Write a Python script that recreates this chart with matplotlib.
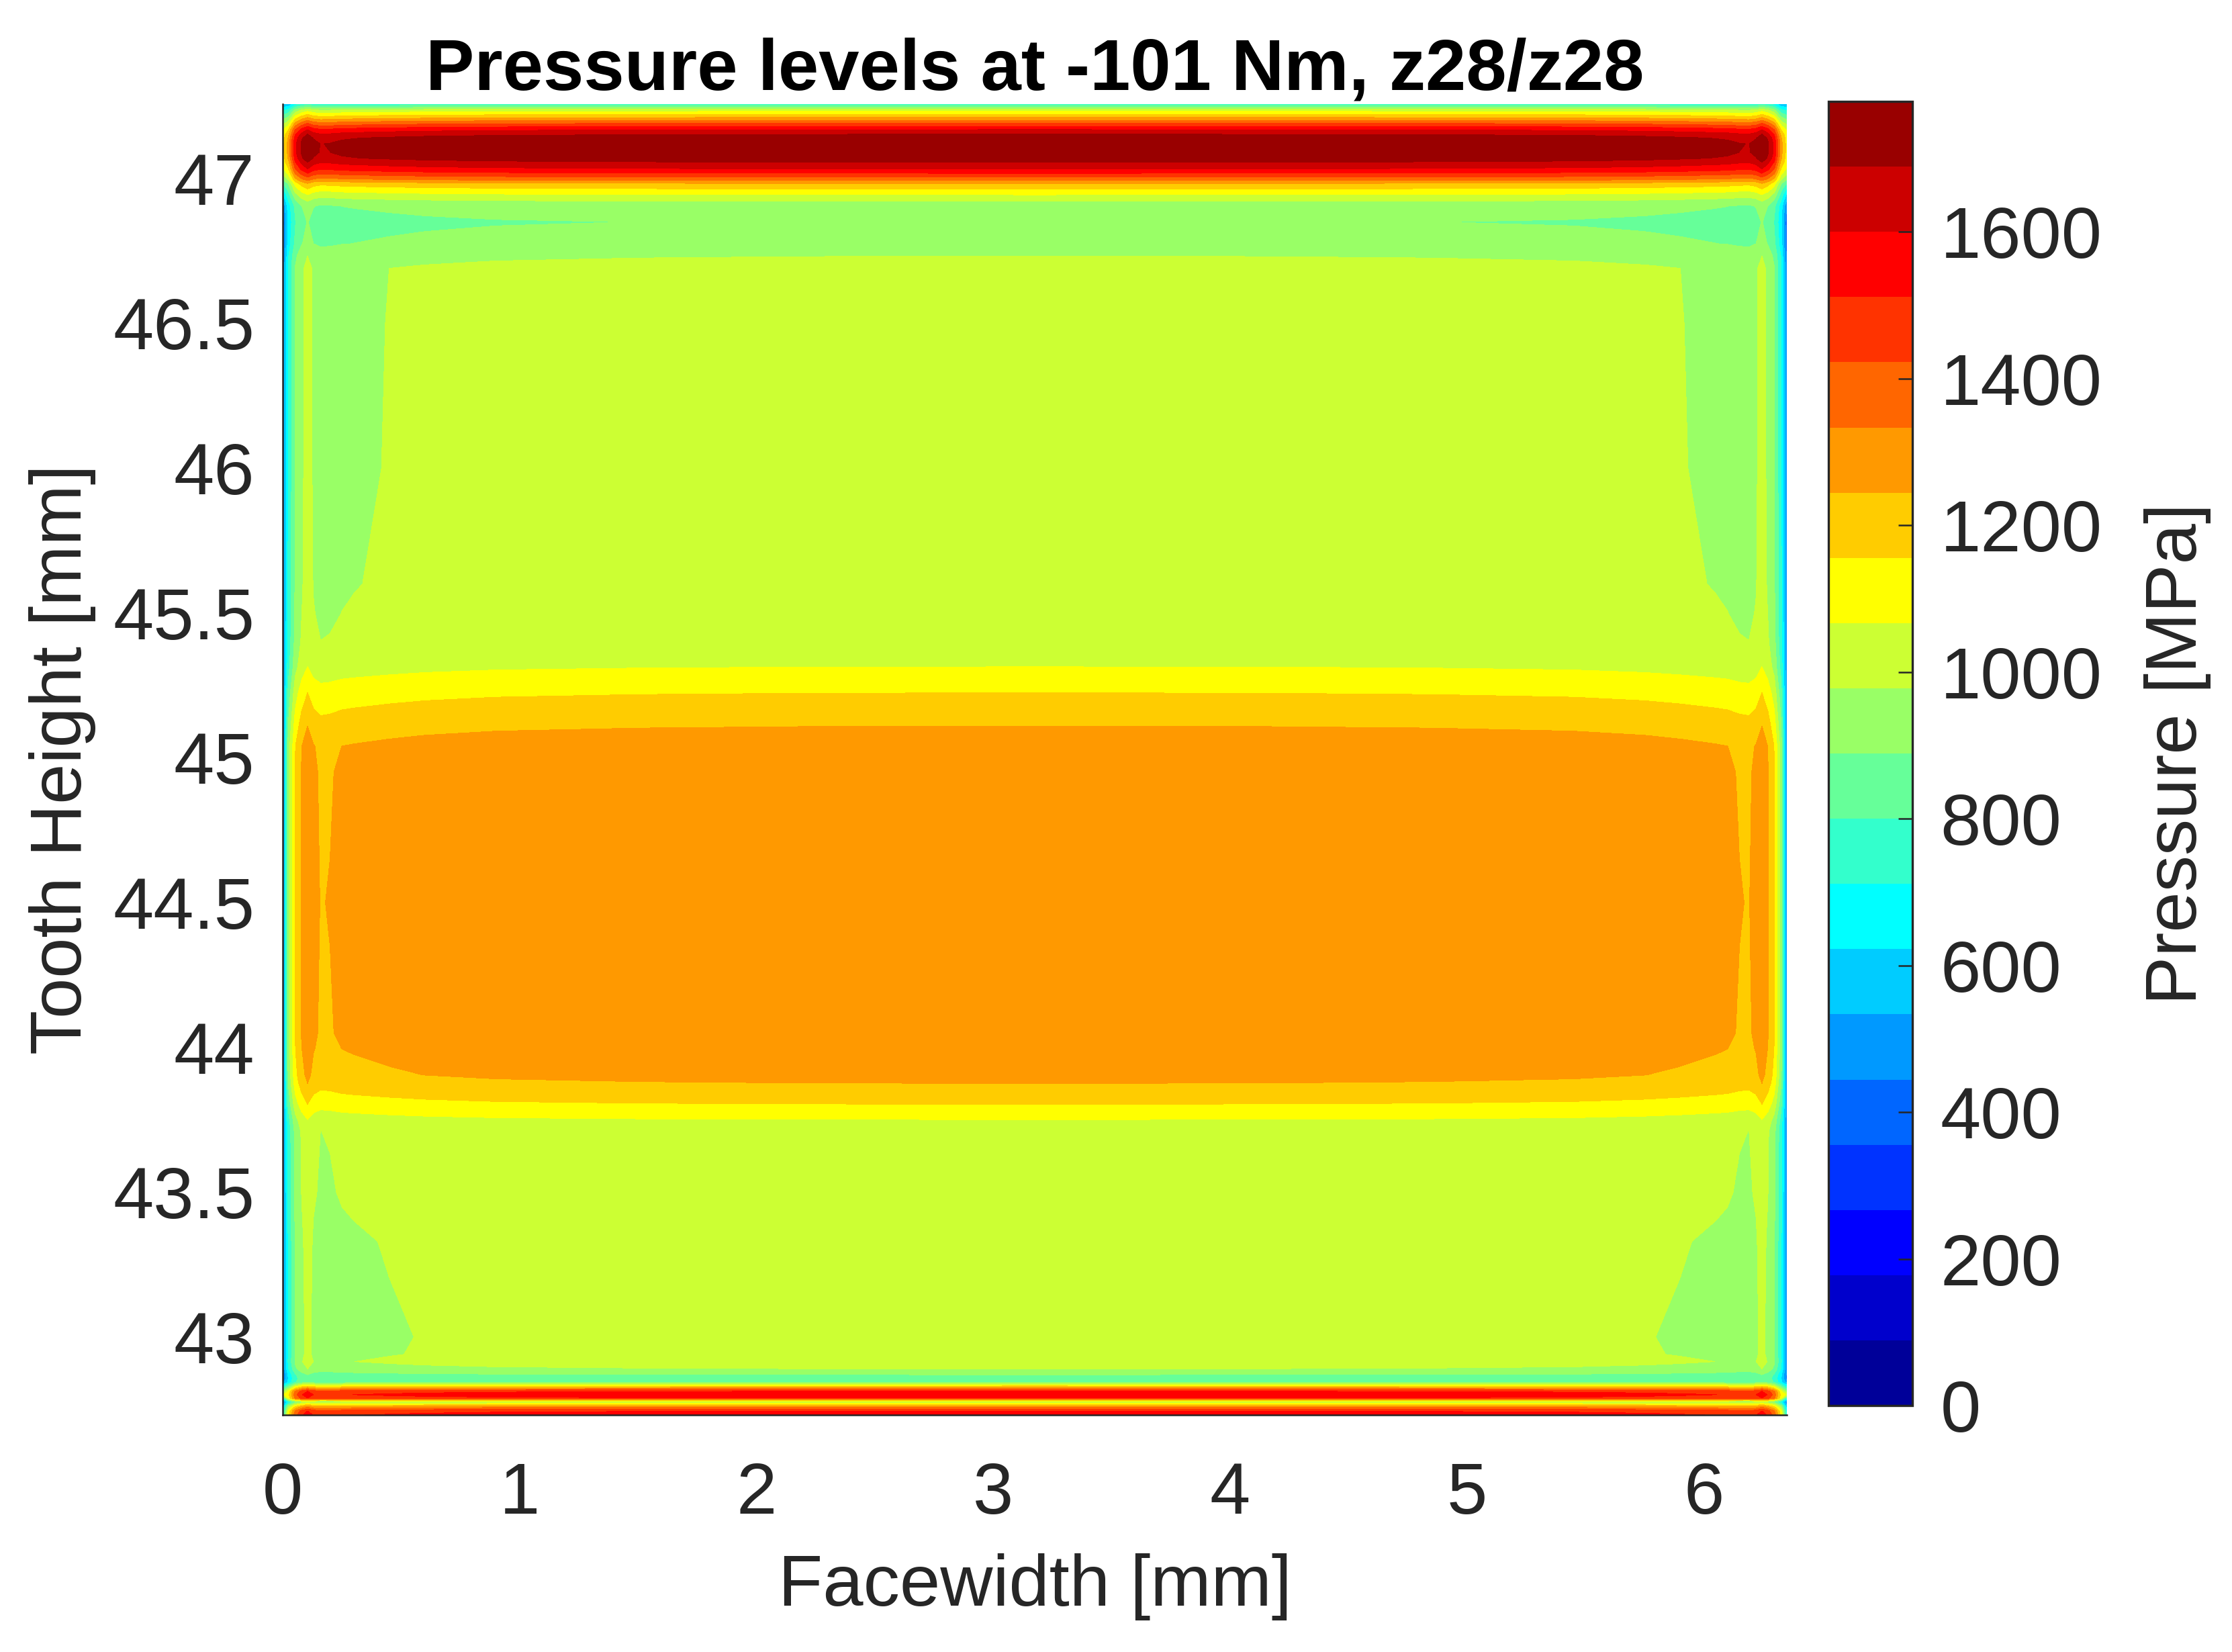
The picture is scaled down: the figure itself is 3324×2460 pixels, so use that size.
import numpy as np
import matplotlib
matplotlib.use("Agg")
import matplotlib.pyplot as plt
from matplotlib.colors import ListedColormap, BoundaryNorm

# ---------------- data ----------------
# Tooth height nodes [mm] (ascending) and pressure along the middle of the face [MPa]
height_mm = [42.731, 42.745, 42.760, 42.776, 42.789, 42.801, 42.813, 42.844, 42.857,
             42.870, 42.890, 42.915, 42.940, 43.000, 43.330, 43.500, 43.710, 43.751,
             43.804, 43.876, 43.905, 43.995, 44.050, 44.500, 44.950, 45.040, 45.077,
             45.109, 45.224, 45.314, 45.400,
             45.500, 45.600, 46.000, 46.500, 46.690, 46.732, 46.775, 46.850, 46.905,
             46.921, 46.944, 46.964, 46.983, 46.998, 47.018, 47.033, 47.056, 47.070,
             47.090, 47.120, 47.140, 47.153, 47.169, 47.190, 47.211, 47.235, 47.257]
center_pressure = [1560, 1511, 1300, 960, 1511, 1565, 1511, 889, 870,
                   889, 978, 1012, 1000, 998, 1006, 1021, 1029, 1067,
                   1156, 1245, 1268, 1294, 1302, 1308, 1302, 1294, 1268,
                   1245, 1156, 1067, 1030,
                   1017, 1010, 1005, 1004, 1003, 978, 921, 893, 925,
                   978, 1067, 1156, 1245, 1380, 1511, 1600, 1689, 1745,
                   1772, 1776, 1745, 1689, 1600, 1430, 1245, 1040, 760]
# Pressure on the two face ends (x = 0 and x = 6.35 mm) [MPa]
edge_pressure = [700, 650, 560, 450, 700, 1050, 900, 500, 400,
                 420, 450, 460, 460, 460, 460, 460, 460, 460,
                 450, 440, 435, 430, 430, 430, 430, 430, 435,
                 440, 450, 460, 460,
                 460, 460, 460, 460, 450, 420, 400, 380, 450,
                 520, 600, 700, 800, 900, 1000, 1050, 1100, 1110,
                 1120, 1120, 1110, 1100, 1050, 950, 850, 700, 550]

# Facewidth nodes [mm] and relative pressure across the face width
facewidth_mm = [0.0, 0.024, 0.053, 0.08, 0.105, 0.13, 0.16, 0.2, 0.25, 0.3, 0.45,
                0.6, 0.9, 1.5, 2.2, 3.175, 4.15, 4.85, 5.45, 5.75, 5.9, 6.05,
                6.1, 6.15, 6.19, 6.22, 6.245, 6.27, 6.297, 6.326, 6.35]
edge_factor = [0.45, 0.72, 0.89, 0.96, 1.0, 0.965, 0.95, 0.953, 0.962, 0.966, 0.975,
               0.982, 0.99, 0.996, 0.999, 1.0, 0.999, 0.996, 0.99, 0.982, 0.975, 0.966,
               0.962, 0.953, 0.95, 0.965, 1.0, 0.96, 0.89, 0.72, 0.45]

pressure_max = 1778
n_levels = 20
cbar_ticks = [0, 200, 400, 600, 800, 1000, 1200, 1400, 1600]
x_ticks = [0, 1, 2, 3, 4, 5, 6]
y_ticks = [43, 43.5, 44, 44.5, 45, 45.5, 46, 46.5, 47]
y_tick_labels = ["43", "43.5", "44", "44.5", "45", "45.5", "46", "46.5", "47"]

# ---------------- pressure table ----------------
Z = np.outer(np.array(center_pressure, float), np.array(edge_factor, float))
Z[:, 0] = edge_pressure
Z[:, -1] = edge_pressure
X, Y = np.meshgrid(facewidth_mm, height_mm)

# MATLAB jet(20)
jet20 = [(0, 0, .6), (0, 0, .8), (0, 0, 1), (0, .2, 1), (0, .4, 1), (0, .6, 1),
         (0, .8, 1), (0, 1, 1), (.2, 1, .8), (.4, 1, .6), (.6, 1, .4), (.8, 1, .2),
         (1, 1, 0), (1, .8, 0), (1, .6, 0), (1, .4, 0), (1, .2, 0), (1, 0, 0),
         (.8, 0, 0), (.6, 0, 0)]
cmap = ListedColormap(jet20)
levels = np.linspace(0, pressure_max, n_levels + 1)
norm = BoundaryNorm(levels, cmap.N)

plt.rcParams['font.family'] = ['Liberation Sans', 'DejaVu Sans']
txt = '#262626'

fig = plt.figure(figsize=(3324 / 300, 2460 / 300), dpi=300)
ax = fig.add_axes([421 / 3324, 1 - 2107 / 2460, (2661 - 421) / 3324, (2107 - 155) / 2460])
cs = ax.contourf(X, Y, Z, levels=levels, cmap=cmap, norm=norm, antialiased=False)

ax.set_xlim(0, 6.35)
ax.set_ylim(42.731, 47.257)
ax.set_xticks(x_ticks)
ax.set_yticks(y_ticks)
ax.set_yticklabels(y_tick_labels)
ax.tick_params(axis='both', length=0, labelsize=26, colors=txt)
ax.tick_params(axis='x', pad=16.5)
ax.tick_params(axis='y', pad=10)
for s in ['top', 'right']:
    ax.spines[s].set_visible(False)
for s in ['left', 'bottom']:
    ax.spines[s].set_color(txt)
    ax.spines[s].set_linewidth(0.6)

ax.set_xlabel('Facewidth [mm]', fontsize=26, color=txt, labelpad=9)
ax.set_ylabel('Tooth Height [mm]', fontsize=26, color=txt, labelpad=6)
ax.set_title('Pressure levels at -101 Nm, z28/z28', fontsize=26, fontweight='bold',
             color='black', pad=2)

cax = fig.add_axes([2723 / 3324, 1 - 2093 / 2460, 125 / 3324, (2093 - 151) / 2460])
cb = fig.colorbar(cs, cax=cax, ticks=cbar_ticks)
cb.minorticks_off()
cb.outline.set_edgecolor(txt)
cb.outline.set_linewidth(0.8)
cax.tick_params(which='minor', length=0)
cax.tick_params(which='major', direction='in', length=5, width=0.6, colors=txt,
                labelsize=26, pad=10)
cb.set_label('Pressure [MPa]', fontsize=26, color=txt, labelpad=15)
cax.set_ylim(0, pressure_max)

fig.savefig('out.png', dpi=300)
